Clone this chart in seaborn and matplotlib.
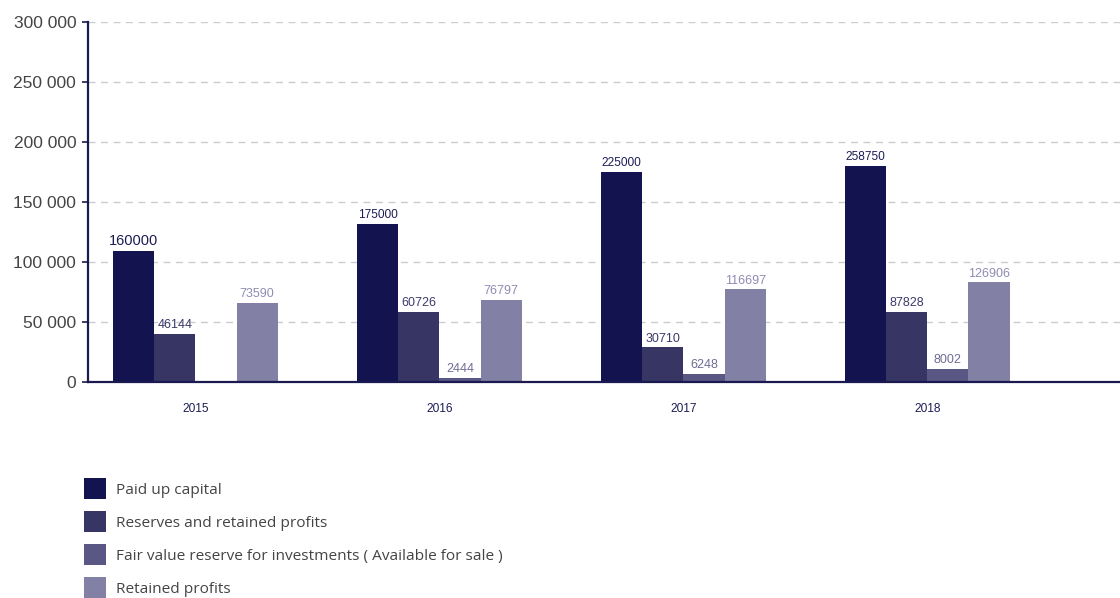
import matplotlib
matplotlib.use("Agg")
import matplotlib.pyplot as plt
import seaborn as sns
import pandas as pd
import numpy as np

years = ["2015", "2016", "2017", "2018"]
series = [
    "Paid up capital",
    "Reserves and retained profits",
    "Fair value reserve for investments ( Available for sale )",
    "Retained profits",
]
# drawn bar heights (as they appear on the chart's axis)
paid_heights = [109000, 131700, 175000, 180200]
reserves_heights = [40000, 58300, 28900, 58300]
fairvalue_heights = [0, 3600, 6700, 11100]
retained_heights = [66000, 68600, 77200, 83000]
# printed value labels
paid_labels = ["160000", "175000", "225000", "258750"]
reserves_labels = ["46144", "60726", "30710", "87828"]
fairvalue_labels = ["", "2444", "6248", "8002"]
retained_labels = ["73590", "76797", "116697", "126906"]

y_ticks = [0, 50000, 100000, 150000, 200000, 250000, 300000]
y_tick_labels = ["0", "50 000", "100 000", "150 000", "200 000", "250 000", "300 000"]

colors = ["#13134f", "#363564", "#5a5784", "#8280a5"]
label_colors = ["#1c1c55", "#3a3a6c", "#6e6c96", "#8e8cb2"]
label_sizes = [8.6, 9.0, 9.0, 9.0]

heights = [paid_heights, reserves_heights, fairvalue_heights, retained_heights]
labels = [paid_labels, reserves_labels, fairvalue_labels, retained_labels]

rows = []
for s, h in zip(series, heights):
    for y, v in zip(years, h):
        rows.append({"year": y, "series": s, "value": v})
df = pd.DataFrame(rows)

sns.set_theme(style="white")
plt.rcParams["font.family"] = ["Liberation Sans", "DejaVu Sans"]

fig = plt.figure(figsize=(11.2, 5.98), dpi=100)
ax = fig.add_axes([88 / 1120, 1 - 382 / 598, 1 - 88 / 1120, 360 / 598])

sns.barplot(data=df, x="year", y="value", hue="series", hue_order=series,
            order=years, palette=colors, width=0.676, gap=0, saturation=1,
            linewidth=0, ax=ax)

for i, (cont, labs) in enumerate(zip(ax.containers, labels)):
    texts = ax.bar_label(cont, labels=list(labs), padding=2, color=label_colors[i],
                         fontsize=label_sizes[i])
    if i == 0:
        texts[0].set_fontsize(10.5)

ax.set_ylim(0, 300000)
ax.set_xlim(-0.44, 3.79)
ax.set_yticks(y_ticks)
ax.set_yticklabels(y_tick_labels, fontsize=12.5, color="#444444")
ax.tick_params(axis="y", length=4.5, width=1.2, color="#1a1a50", pad=4, left=True)
ax.tick_params(axis="x", length=0, pad=15, labelsize=8.6, labelcolor="#1c1c55")
ax.set_xlabel("")
ax.set_ylabel("")

for yv in y_ticks[1:]:
    ax.axhline(yv, color="#cccccc", linestyle=(0, (5, 4)), linewidth=1, zorder=0)

for side in ["top", "right"]:
    ax.spines[side].set_visible(False)
for side in ["left", "bottom"]:
    ax.spines[side].set_color("#1a1a50")
    ax.spines[side].set_linewidth(1.6)

sns.move_legend(ax, "upper left", bbox_to_anchor=(78 / 1120, 1 - 472 / 598),
                bbox_transform=fig.transFigure, frameon=False, title=None,
                fontsize=11.1, handlelength=1.43, handleheight=1.716,
                labelspacing=0.78, handletextpad=0.65, borderaxespad=0)
leg = ax.get_legend()
for t in leg.get_texts():
    t.set_color("#444444")
    t.set_family(["Open Sans", "DejaVu Sans"])

fig.savefig("out.png", dpi=100)
